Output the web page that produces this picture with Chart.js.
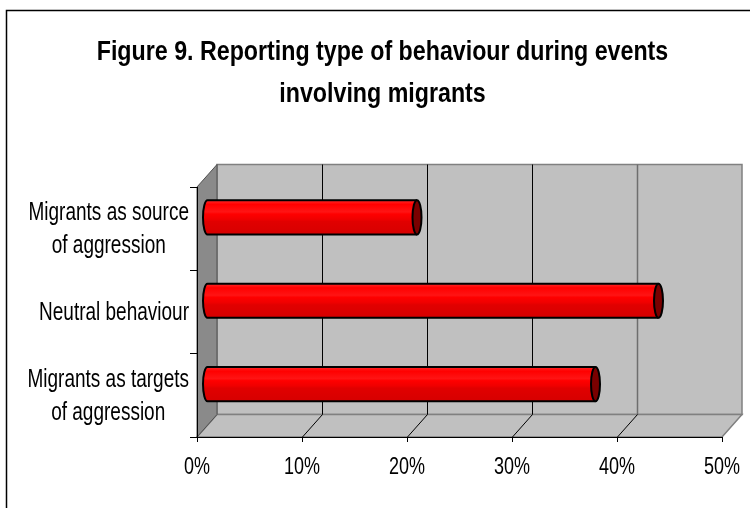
<!DOCTYPE html>
<html>
<head>
<meta charset="utf-8">
<script src="https://cdn.jsdelivr.net/npm/chart.js@4.4.1/dist/chart.umd.min.js"></script>
<style>
  html, body { margin: 0; padding: 0; background: #fff; }
  #wrap { width: 750px; height: 508px; }
</style>
</head>
<body>
<div id="wrap"><canvas id="c" width="750" height="508"></canvas></div>
<script>
// ---- data ----
const categories = [
  ["Migrants as source", "of aggression"],
  "Neutral behaviour",
  ["Migrants as targets", "of aggression"]
];
const values = [20, 43, 37];
const tickLabels = ["0%", "10%", "20%", "30%", "40%", "50%"];
const titleLines = ["Figure 9. Reporting type of behaviour during events", "involving migrants"];

// ---- style ----
const FONT = "'Liberation Sans', Arial, sans-serif";
const DX = 20, DY = -22.5;          // depth of the 3D box
const BX = DX / 2, BY = DY / 2;     // bars sit at mid depth

function poly(ctx, pts, fill, stroke, lw) {
  ctx.beginPath();
  pts.forEach((p, i) => i ? ctx.lineTo(p[0], p[1]) : ctx.moveTo(p[0], p[1]));
  ctx.closePath();
  if (fill) { ctx.fillStyle = fill; ctx.fill(); }
  if (stroke) { ctx.strokeStyle = stroke; ctx.lineWidth = lw || 1; ctx.stroke(); }
}
function seg(ctx, x1, y1, x2, y2, color, lw) {
  ctx.beginPath(); ctx.moveTo(x1, y1); ctx.lineTo(x2, y2);
  ctx.strokeStyle = color; ctx.lineWidth = lw || 1; ctx.stroke();
}
// condensed text (narrow face emulated by horizontal scaling)
function narrowText(ctx, text, x, y, size, bold, sx, align) {
  ctx.save();
  ctx.translate(x, y);
  ctx.scale(sx, 1);
  ctx.font = (bold ? 'bold ' : '') + size + 'px ' + FONT;
  ctx.fillStyle = '#000';
  ctx.textAlign = align || 'center';
  ctx.textBaseline = 'alphabetic';
  ctx.fillText(text, 0, 0);
  ctx.restore();
}
function narrowWidth(ctx, text, size, bold, sx) {
  ctx.save();
  ctx.font = (bold ? 'bold ' : '') + size + 'px ' + FONT;
  const w = ctx.measureText(text).width * sx;
  ctx.restore();
  return w;
}

const threeD = {
  id: 'threeD',
  beforeDraw(chart) {
    const ctx = chart.ctx;
    const { left: L, right: R, top: T, bottom: B } = chart.chartArea;
    const xs = chart.scales.x;
    ctx.save();
    ctx.fillStyle = '#fff';
    ctx.fillRect(0, 0, chart.width, chart.height);
    ctx.strokeStyle = '#000'; ctx.lineWidth = 1.5;
    ctx.strokeRect(6.5, 10.5, chart.width + 40, chart.height + 40);
    // back wall
    poly(ctx, [[L + DX, T + DY], [R + DX, T + DY], [R + DX, B + DY], [L + DX, B + DY]], '#c0c0c0', '#808080', 1.5);
    // floor
    poly(ctx, [[L, B], [R, B], [R + DX, B + DY], [L + DX, B + DY]], '#c0c0c0', '#808080', 1.5);
    // left wall
    poly(ctx, [[L, T], [L + DX, T + DY], [L + DX, B + DY], [L, B]], '#8a8a8a', '#505050', 1);
    // gridlines on back wall and floor
    const n = xs.ticks.length;
    for (let i = 1; i < n - 1; i++) {
      const px = Math.round(xs.getPixelForTick(i)) + 0.5;
      const last = (i === n - 2);
      seg(ctx, px + DX, T + DY, px + DX, B + DY, last ? '#6e6e6e' : '#000', last ? 1.5 : 1);
      seg(ctx, px, B, px + DX, B + DY, '#000', 1);
    }
    ctx.restore();
  },
  beforeDatasetsDraw(chart) {
    chart.ctx.save();
    chart.ctx.translate(BX, BY);
  },
  afterDatasetsDraw(chart) {
    const ctx = chart.ctx;
    const meta = chart.getDatasetMeta(0);
    meta.data.forEach(bar => {
      const { x, y, base, height } = bar.getProps(['x', 'y', 'base', 'height'], true);
      const h = height, top = y - h / 2, bot = y + h / 2, rx = 4.5;
      const g = ctx.createLinearGradient(0, top, 0, bot);
      g.addColorStop(0, '#ff2a2a');
      g.addColorStop(0.12, '#ff0000');
      g.addColorStop(0.34, '#ff1414');
      g.addColorStop(0.40, '#ff0000');
      g.addColorStop(0.55, '#f00000');
      g.addColorStop(0.62, '#e10000');
      g.addColorStop(1, '#d60000');
      ctx.beginPath();
      ctx.moveTo(x, top);
      ctx.lineTo(base, top);
      ctx.ellipse(base, y, rx, h / 2, 0, -Math.PI / 2, Math.PI / 2, true);
      ctx.lineTo(x, bot);
      ctx.closePath();
      ctx.fillStyle = g; ctx.fill();
      ctx.beginPath();
      ctx.moveTo(x, top);
      ctx.lineTo(base, top);
      ctx.ellipse(base, y, rx, h / 2, 0, -Math.PI / 2, Math.PI / 2, true);
      ctx.lineTo(x, bot);
      ctx.strokeStyle = '#000'; ctx.lineWidth = 2; ctx.stroke();
      ctx.beginPath();
      ctx.ellipse(x, y, rx, h / 2, 0, 0, Math.PI * 2);
      ctx.fillStyle = '#7a0000'; ctx.fill();
      ctx.strokeStyle = '#000'; ctx.lineWidth = 2; ctx.stroke();
    });
    ctx.restore();
  },
  afterDraw(chart) {
    const ctx = chart.ctx;
    const ys = chart.scales.y, xs = chart.scales.x;
    const { left: L, bottom: B } = chart.chartArea;
    // title
    titleLines.forEach((t, k) => narrowText(ctx, t, 382.5, 60 + k * 42, 27, true, 0.86, 'center'));
    // x tick labels
    xs.ticks.forEach((t, i) => {
      narrowText(ctx, tickLabels[i], xs.getPixelForTick(i), B + 37, 24, false, 0.75, 'center');
    });
    // category labels: each block centred, blocks right aligned to the axis
    const right = L - 8;
    const lh = 33;
    chart.data.labels.forEach((lab, i) => {
      const lines = Array.isArray(lab) ? lab : [lab];
      const w = Math.max(...lines.map(l => narrowWidth(ctx, l, 25, false, 0.76)));
      const cx = right - w / 2;
      const cy = ys.getPixelForValue(i);
      lines.forEach((l, k) => {
        narrowText(ctx, l, cx, cy + 8 + (k - (lines.length - 1) / 2) * lh, 25, false, 0.76, 'center');
      });
    });
  }
};

new Chart(document.getElementById('c'), {
  type: 'bar',
  data: {
    labels: categories,
    datasets: [{
      data: values,
      backgroundColor: '#f00000',
      borderWidth: 0,
      categoryPercentage: 1,
      barPercentage: 0.41
    }]
  },
  options: {
    indexAxis: 'y',
    responsive: false,
    animation: false,
    events: [],
    layout: { padding: { left: 42, right: 28, top: 187, bottom: 0 } },
    plugins: {
      legend: { display: false },
      tooltip: { enabled: false },
      title: { display: false }
    },
    scales: {
      x: {
        min: 0, max: 50,
        ticks: { stepSize: 10, display: false },
        grid: { drawOnChartArea: false, drawTicks: true, tickLength: 5, color: '#000' },
        border: { display: true, color: '#000', width: 1 },
        afterFit(s) { s.height = 71; }
      },
      y: {
        ticks: { display: false },
        grid: { drawOnChartArea: false, drawTicks: true, tickLength: 7, color: '#000', offset: true },
        border: { display: true, color: '#000', width: 1 },
        afterFit(s) { s.width = 155; }
      }
    }
  },
  plugins: [threeD]
});
</script>
</body>
</html>
